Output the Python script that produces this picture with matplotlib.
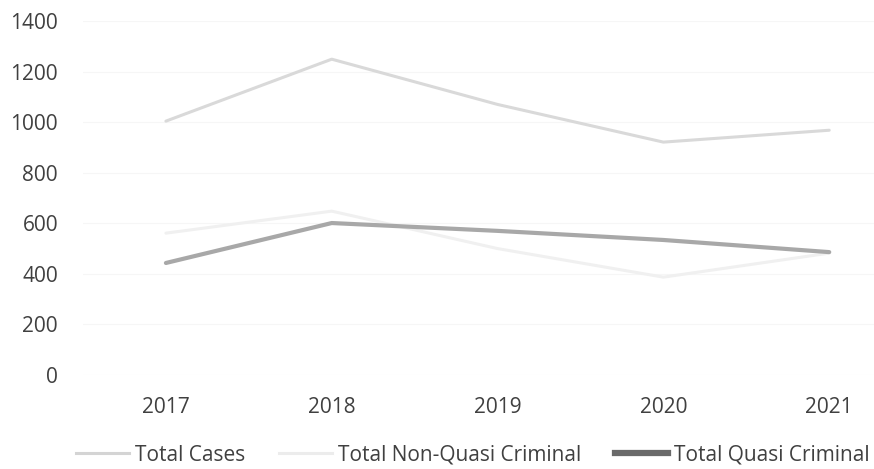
import matplotlib.pyplot as plt
from matplotlib.lines import Line2D
import numpy as np

years = ['2017', '2018', '2019', '2020', '2021']
total_cases = [1004, 1249, 1070, 921, 968]
non_quasi = [561, 648, 500, 387, 482]
quasi = [443, 601, 570, 534, 486]

plt.rcParams['font.family'] = ['Open Sans', 'DejaVu Sans']

fig = plt.figure(figsize=(8.74, 4.69), dpi=100)
ax = fig.add_axes([83 / 874, 1 - 375 / 469, 1 - 83 / 874, 354 / 469])

x = np.arange(len(years))
ax.plot(x, total_cases, color='#d9d9d9', lw=2.2, solid_capstyle='round')
ax.plot(x, non_quasi, color='#f0f0f0', lw=2.2, solid_capstyle='round')
ax.plot(x, quasi, color='#a8a8a8', lw=3.0, solid_capstyle='round')

ax.set_ylim(0, 1400)
ax.set_yticks(range(0, 1401, 200))
ax.set_xlim(-0.5, 4.27)
ax.set_xticks(x)
ax.set_xticklabels(years)
ax.yaxis.grid(True, color='#f6f6f6', lw=0.8)
ax.set_axisbelow(True)
for s in ax.spines.values():
    s.set_visible(False)
ax.tick_params(length=0, labelsize=15, colors='#404040')
ax.tick_params(axis='y', pad=18)
ax.tick_params(axis='x', pad=16)

# legend handles look a bit heavier than the plotted lines
handles = [
    Line2D([], [], color='#d4d4d4', lw=2.2),
    Line2D([], [], color='#ececec', lw=2.2),
    Line2D([], [], color='#6a6a6a', lw=4.5),
]
labels = ['Total Cases', 'Total Non-Quasi Criminal', 'Total Quasi Criminal']
leg = fig.legend(handles, labels, loc='center left', bbox_to_anchor=(76 / 874, 1 - 455 / 469),
                 ncol=3, frameon=False, fontsize=15, borderpad=0, borderaxespad=0,
                 handlelength=2.55, handletextpad=0.3, columnspacing=1.6)
for t in leg.get_texts():
    t.set_color('#404040')

fig.savefig('out.png', dpi=100)
